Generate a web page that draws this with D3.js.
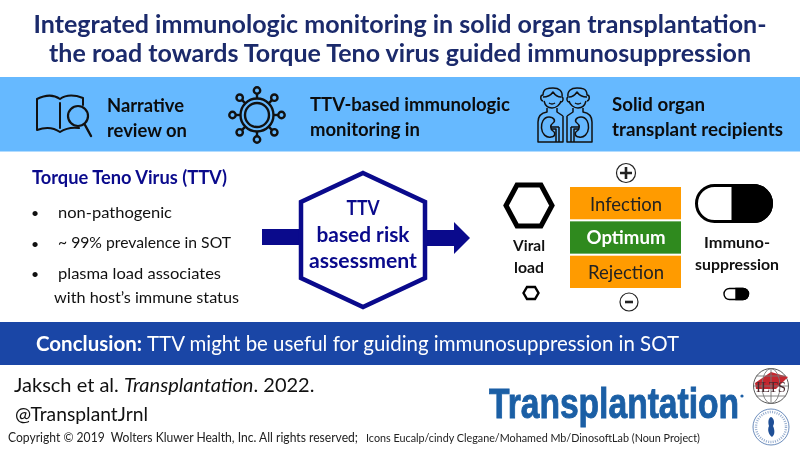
<!DOCTYPE html>
<html>
<head>
<meta charset="utf-8">
<script src="https://cdn.jsdelivr.net/npm/d3@7"></script>
<style>
  html, body { margin: 0; padding: 0; background: #fff; }
  svg { display: block; filter: blur(0.35px); }
  text { font-family: Lato, Carlito, "Open Sans", sans-serif; white-space: pre; }
</style>
</head>
<body>
<div id="chart"></div>
<script>
var titleLines = ['Integrated immunologic monitoring in solid organ transplantation-',
    'the road towards Torque Teno virus guided immunosuppression'];
var bandReview = ['Narrative', 'review on'];
var bandMonitoring = ['TTV-based immunologic', 'monitoring in'];
var bandRecipients = ['Solid organ', 'transplant recipients'];
var ttvHeading = 'Torque Teno Virus (TTV)';
var ttvBullets = ['non-pathogenic', '~ 99% prevalence in SOT', 'plasma load associates'];
var ttvBulletTail = 'with host\u2019s immune status';
var riskLines = ['TTV', 'based risk', 'assessment'];
var levels = ['Infection', 'Optimum', 'Rejection'];
var viralLines = ['Viral', 'load'];
var immunoLines = ['Immuno-', 'suppression'];
var conclusionHead = 'Conclusion:';
var conclusionBody = 'TTV might be useful for guiding immunosuppression in SOT';
var citeParts = ['Jaksch et al. ', 'Transplantation', '. 2022.'];
var handle = '@TransplantJrnl';
var copyright = 'Copyright \u00a9 2019  Wolters Kluwer Health, Inc. All rights reserved;';
var iconCredit = 'Icons Eucalp/cindy Clegane/Mohamed Mb/DinosoftLab (Noun Project)';
var journal = 'Transplantation';
var emblem = 'ILTS';

var navy = '#1b2a6b';
var deepBlue = '#0a0a8c';
var svg = d3.select('#chart').append('svg').attr('width', 800).attr('height', 450);

// fit = target width, text gets squeezed to match the reference
function label(g, str, x, y, size, opts) {
    opts = opts || {};
    var t = g.append('text')
        .attr('x', x)
        .attr('y', y)
        .attr('font-size', size)
        .attr('font-weight', opts.bold ? 700 : 400)
        .attr('fill', opts.fill || '#111')
        .attr('text-anchor', opts.anchor || 'start')
        .text(str);
    if (opts.fit) {
        t.attr('textLength', opts.fit).attr('lengthAdjust', 'spacingAndGlyphs');
    }
    return t;
}

function hexagon(g, cx, cy, halfW, halfH, inset) {
    var pts = [[cx - halfW, cy], [cx - halfW + inset, cy - halfH], [cx + halfW - inset, cy - halfH],
        [cx + halfW, cy], [cx + halfW - inset, cy + halfH], [cx - halfW + inset, cy + halfH]];
    return g.append('path').attr('d', d3.line()(pts) + 'Z');
}

function pill(g, x, y, w, h, split, sw) {
    var r = h / 2;
    g.append('rect').attr('x', x).attr('y', y).attr('width', w).attr('height', h).attr('rx', r)
        .attr('fill', '#fff').attr('stroke', '#000').attr('stroke-width', sw);
    g.append('path')
        .attr('d', 'M' + split + ',' + y + 'H' + (x + w - r) + 'A' + r + ',' + r + ' 0 0 1 ' + (x + w - r) + ',' + (y + h) + 'H' + split + 'Z')
        .attr('fill', '#000').attr('stroke', '#000').attr('stroke-width', sw);
}

// title
titleLines.forEach(function (d, i) {
    label(svg, d, 400, 33 + i * 28.5, 25.5, {bold: true, fill: navy, anchor: 'middle', fit: i == 0 ? 733 : 702});
});

// bands
svg.append('rect').attr('x', 0).attr('y', 77).attr('width', 800).attr('height', 74.5).attr('fill', '#66b9ff');
svg.append('rect').attr('x', 0).attr('y', 322).attr('width', 800).attr('height', 43).attr('fill', '#1a46a6');

var band = svg.append('g');
bandReview.forEach(function (d, i) { label(band, d, 107, 112 + i * 24.5, 19, {bold: true, fill: '#0c0c0c', fit: i == 0 ? 77 : 80}); });
bandMonitoring.forEach(function (d, i) { label(band, d, 310, 111 + i * 24.5, 19, {bold: true, fill: '#0c0c0c', fit: i == 0 ? 200 : 110}); });
bandRecipients.forEach(function (d, i) { label(band, d, 612, 111 + i * 24.5, 19, {bold: true, fill: '#0c0c0c', fit: i == 0 ? 93 : 171}); });

// book + magnifier
var book = svg.append('g').attr('fill', 'none').attr('stroke', '#111').attr('stroke-width', 2)
    .attr('stroke-linecap', 'round').attr('stroke-linejoin', 'round');
book.append('path').attr('d', 'M83,105 V98 C75,95 67,94 60,99 C53,94 45,95 37,99 V130 C45,127 53,127 60,132 C66,128 72,127 79,128');
book.append('path').attr('d', 'M60,103 V128');
book.append('circle').attr('cx', 78).attr('cy', 116).attr('r', 10).attr('stroke-width', 2.2);
book.append('path').attr('d', 'M85,125 L91,136').attr('stroke-width', 2.4);

// virus
var virus = svg.append('g').attr('fill', 'none').attr('stroke', '#111').attr('stroke-width', 2.4);
virus.append('circle').attr('cx', 257).attr('cy', 115).attr('r', 16.5);
virus.append('circle').attr('cx', 257).attr('cy', 115).attr('r', 12);
d3.range(8).forEach(function (k) {
    var a = k * Math.PI / 4;
    var cx = 257 + 24.5 * Math.cos(a), cy = 115 + 24.5 * Math.sin(a);
    virus.append('line')
        .attr('x1', 257 + 16.5 * Math.cos(a)).attr('y1', 115 + 16.5 * Math.sin(a))
        .attr('x2', 257 + 21 * Math.cos(a)).attr('y2', 115 + 21 * Math.sin(a));
    virus.append('circle').attr('cx', cx).attr('cy', cy).attr('r', 3.2);
});

// two people with kidneys, right one is the left one mirrored about x=565
function person(g, mirror) {
    var p = g.append('g');
    if (mirror) p.attr('transform', 'translate(1130,0) scale(-1,1)');
    p.append('path').attr('d', 'M543,101 C540,100 540,95 543,95 C543,88 549,88 553,88 C559,88 563,91 562,97 C564,98 563,102 561,102');
    p.append('path').attr('d', 'M543,97 C548,97 551,95 553,92 C555,95 558,97 561,97');
    p.append('path').attr('d', 'M544,101 C545,105 548,108 552,108 C556,108 560,105 561,101');
    p.append('path').attr('d', 'M549,103 Q552,105 555,103');
    p.append('path').attr('d', 'M547,108 V112 C541,113 538,117 538,122 V142 H563 V116 M557,108 V112 L563,116');
    p.append('path').attr('d', 'M549,117 C543,117 541,124 541.5,128 C542,134 546,138 551,137 C555,137 556,133 553,131 C550,129 550,125 553,123 C556,121 554,117 549,117 Z');
    p.append('path').attr('d', 'M551,127 H559 M551,129 H556 V142 M559,127 V142');
}
var people = svg.append('g').attr('fill', 'none').attr('stroke', '#111').attr('stroke-width', 1.5).attr('stroke-linejoin', 'round');
person(people, false);
person(people, true);

// left column
label(svg, ttvHeading, 32, 184, 18.5, {bold: true, fill: deepBlue, fit: 195});
var bulletY = [218, 248, 279];
var bulletFit = [114, 173, 163];
ttvBullets.forEach(function (d, i) {
    label(svg, '\u2022', 35, bulletY[i] - (i == 1 ? -1 : 0), 14, {anchor: 'middle'});
    label(svg, d, 58, bulletY[i], 16, {fit: bulletFit[i]});
});
label(svg, ttvBulletTail, 54, 303, 16, {fit: 185});

// arrows and centre hexagon
svg.append('rect').attr('x', 262).attr('y', 229).attr('width', 42).attr('height', 16).attr('fill', deepBlue);
svg.append('path').attr('d', d3.line()([[422, 230], [454, 230], [454, 222], [470, 238], [454, 254], [454, 246], [422, 246]]) + 'Z').attr('fill', deepBlue);
svg.append('path')
    .attr('d', d3.line()([[363, 173], [425, 202], [425, 278], [363, 307], [301, 278], [301, 202]]) + 'Z')
    .attr('fill', '#fff').attr('stroke', deepBlue).attr('stroke-width', 4.5);
riskLines.forEach(function (d, i) {
    label(svg, d, 363, 215 + i * 26.5, 20.5, {bold: true, fill: deepBlue, anchor: 'middle', fit: [33, 93, 108][i]});
});

// viral load side
var hex = svg.append('g').attr('fill', 'none').attr('stroke', '#000');
hexagon(hex, 529, 205.5, 23, 20.5, 11).attr('stroke-width', 5);
hexagon(hex, 531, 293, 7.5, 6, 3.5).attr('stroke-width', 2.4);
viralLines.forEach(function (d, i) { label(svg, d, 529, 251 + i * 21.5, 15.5, {bold: true, anchor: 'middle', fit: i == 0 ? 32 : 30}); });

// levels
var levelY = d3.scaleBand().domain(levels).range([187, 288]).paddingInner(0.06);
svg.selectAll('rect.level').data(levels).enter().append('rect')
    .attr('class', 'level')
    .attr('x', 570).attr('width', 111)
    .attr('y', function (d) { return levelY(d); })
    .attr('height', levelY.bandwidth())
    .attr('fill', function (d) { return d == 'Optimum' ? '#2f8a1e' : '#ff9b00'; });
levels.forEach(function (d, i) {
    var opt = d == 'Optimum';
    var base = levelY(d) + levelY.bandwidth() / 2 + 6.5 + [1.5, 0, 1][i];
    label(svg, d, 626, base, 18.5, {bold: opt, fill: opt ? '#fff' : '#222', anchor: 'middle', fit: opt ? 79 : (d == 'Infection' ? 72 : 76)});
});

// plus / minus
var signs = svg.append('g').attr('fill', 'none').attr('stroke', '#222');
signs.append('circle').attr('cx', 626).attr('cy', 173).attr('r', 9.5).attr('stroke-width', 1.2);
signs.append('path').attr('d', 'M620,173 H632 M626,167 V179').attr('stroke-width', 2.6);
signs.append('circle').attr('cx', 629).attr('cy', 302).attr('r', 9).attr('stroke-width', 1.2);
signs.append('path').attr('d', 'M625,302 H633').attr('stroke-width', 2.6);

// immunosuppression side
pill(svg.append('g'), 696.5, 185.5, 75, 36, 733, 3);
pill(svg.append('g'), 724, 288.5, 24.5, 11, 736, 1.4);
immunoLines.forEach(function (d, i) { label(svg, d, 737, 248 + i * 21.5, 15.5, {bold: true, anchor: 'middle', fit: i == 0 ? 66 : 84}); });

// conclusion
label(svg, conclusionHead, 36, 351, 20.5, {bold: true, fill: '#fff', fit: 106});
label(svg, conclusionBody, 147, 351, 20.5, {fill: '#fff', fit: 532});

// footer
var cite = label(svg, '', 14, 392, 20);
citeParts.forEach(function (d, i) {
    cite.append('tspan').attr('font-style', i == 1 ? 'italic' : 'normal').text(d);
});
label(svg, handle, 15, 421, 18.5, {fit: 133});
label(svg, copyright, 8, 442, 12.5, {fill: '#222', fit: 350});
label(svg, iconCredit, 366, 442, 11, {fill: '#222', fit: 334});

// journal logo, squeezed by hand
svg.append('g').attr('transform', 'translate(489,418) scale(0.8,1)')
    .append('text')
    .attr('font-size', 42)
    .attr('font-weight', 700)
    .attr('fill', '#1b5fa5')
    .attr('stroke', '#1b5fa5')
    .attr('stroke-width', 0.9)
    .style('font-family', '"Liberation Sans", sans-serif')
    .text(journal);
svg.append('circle').attr('cx', 742).attr('cy', 396).attr('r', 1.6).attr('fill', '#1b5fa5');

// ILTS emblem
var ilts = svg.append('g').attr('fill', 'none').attr('stroke', '#777').attr('stroke-width', 0.9);
ilts.append('circle').attr('cx', 771).attr('cy', 386).attr('r', 17.5).attr('stroke', '#444');
ilts.append('path').attr('d', 'M755,383 L771,372 L788,377 L776,389 L756,389 Z').attr('fill', '#c4262e').attr('stroke', 'none');
ilts.append('ellipse').attr('cx', 771).attr('cy', 386).attr('rx', 9).attr('ry', 17.5);
ilts.append('path').attr('d', 'M771,368.5 V403.5 M753.5,386 H788.5 M756,376 H786 M756,396 H786');
label(svg, emblem, 771, 392, 15, {fill: '#4a2a30', anchor: 'middle', fit: 30}).style('font-family', '"Liberation Serif", serif');

// society emblem
var soc = svg.append('g').attr('fill', 'none').attr('stroke', '#2b5a9e');
soc.append('circle').attr('cx', 771).attr('cy', 427).attr('r', 18).attr('stroke-width', 0.7);
soc.append('circle').attr('cx', 771).attr('cy', 427).attr('r', 15).attr('stroke-width', 2.4).attr('stroke-dasharray', '1 1.3').attr('opacity', 0.5);
soc.append('path').attr('d', 'M771,417 C768,418 768,423 769,426 C767,430 769,435 772,437 C775,435 775,430 773,426 C775,423 774,418 771,417 Z')
    .attr('fill', '#1f4f96').attr('stroke', 'none');
</script>
</body>
</html>
